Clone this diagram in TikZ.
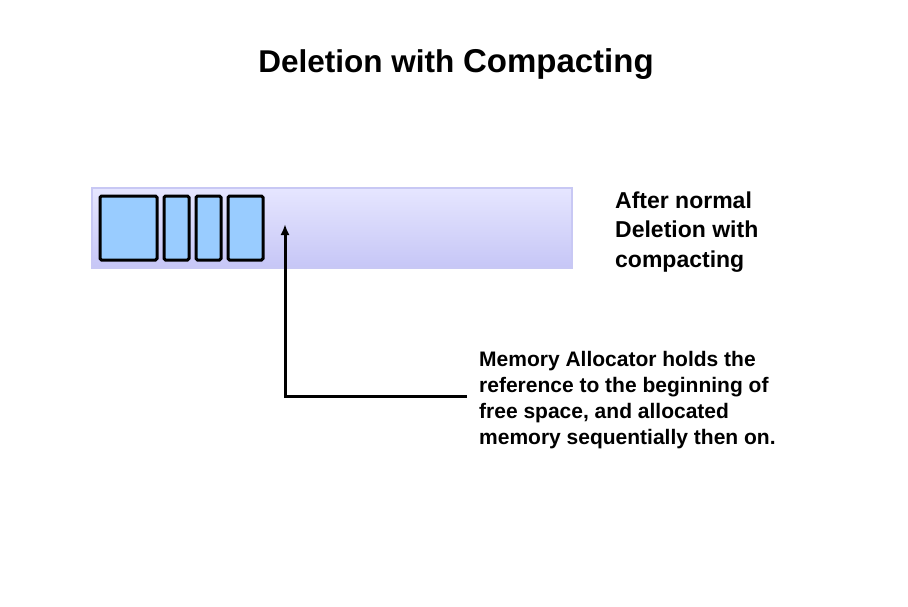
\documentclass[tikz,border=0pt]{standalone}
\usepackage{fontspec}
\setmainfont{Liberation Sans}
\usetikzlibrary{arrows.meta}
\definecolor{barTop}{HTML}{E6E6FF}
\definecolor{barBottom}{HTML}{C6C6F6}
\definecolor{barEdge}{HTML}{C8C8F4}
\definecolor{blockFill}{HTML}{99CCFF}

\begin{document}
\begin{tikzpicture}[x=1pt, y=-1pt]
  \tikzset{
    memblock/.style={draw=black, line width=3pt, fill=blockFill, rounded corners=1.5pt},
    label/.style={font=\bfseries, anchor=north west, inner sep=0pt, align=left}
  }
  \useasboundingbox (0,0) rectangle (908,606);
  \node[font=\bfseries\fontsize{31.5}{36}\selectfont, anchor=base] (title) at (456,72)
    {Deletion with {\fontsize{33}{36}\selectfont Compacting}};
  % the heap
  \draw[barEdge, line width=2pt, top color=barTop, bottom color=barBottom]
    (92,188) rectangle (572,268);
  \node[memblock, minimum width=57pt, minimum height=64pt] (blk-1) at (128.5,228) {};
  \node[memblock, minimum width=25pt, minimum height=64pt] (blk-2) at (176.5,228) {};
  \node[memblock, minimum width=25pt, minimum height=64pt] (blk-3) at (208.5,228) {};
  \node[memblock, minimum width=35pt, minimum height=64pt] (blk-4) at (245.5,228) {};
  \coordinate (free) at (285,224);
  \node[label, font=\bfseries\fontsize{23}{29.5}\selectfont] (state) at (615,191.5)
    {After normal\\Deletion with\\compacting};
  \node[label, font=\bfseries\fontsize{21}{26}\selectfont] (note) at (479,351)
    {Memory Allocator holds the\\reference to the beginning of\\free space, and allocated\\memory sequentially then on.};
  \draw[line width=3pt, -{Latex[length=11pt, width=9pt]}]
    ([xshift=-12pt, yshift=3pt]note.west) -| (free);
\end{tikzpicture}
\end{document}
